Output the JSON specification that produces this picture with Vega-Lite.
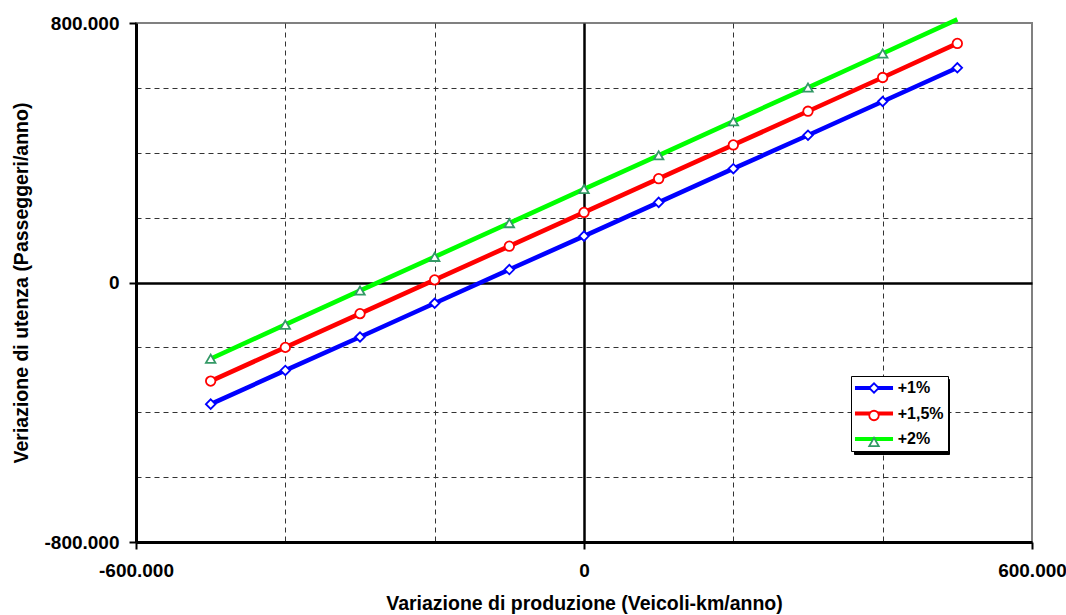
{
  "$schema": "https://vega.github.io/schema/vega-lite/v6.json",
  "width": 896,
  "height": 519,
  "autosize": {"type": "none"},
  "padding": {"left": 136, "top": 23, "right": 34, "bottom": 73},
  "background": "white",
  "config": {
    "locale": {"number": {"decimal": ",", "thousands": ".", "grouping": [3], "currency": ["€", ""], "minus": "-"}},
    "view": {"stroke": "#808080", "strokeWidth": 2},
    "font": "Liberation Sans"
  },
  "data": {
    "values": [
      {"x": -500000, "y": -375000, "serie": "+1%"},
      {"x": -400000, "y": -271000, "serie": "+1%"},
      {"x": -300000, "y": -168000, "serie": "+1%"},
      {"x": -200000, "y": -64000, "serie": "+1%"},
      {"x": -100000, "y": 40000, "serie": "+1%"},
      {"x": 0, "y": 143000, "serie": "+1%"},
      {"x": 100000, "y": 247000, "serie": "+1%"},
      {"x": 200000, "y": 351000, "serie": "+1%"},
      {"x": 300000, "y": 454000, "serie": "+1%"},
      {"x": 400000, "y": 558000, "serie": "+1%"},
      {"x": 500000, "y": 662000, "serie": "+1%"},
      {"x": -500000, "y": -304000, "serie": "+1,5%"},
      {"x": -400000, "y": -200000, "serie": "+1,5%"},
      {"x": -300000, "y": -96000, "serie": "+1,5%"},
      {"x": -200000, "y": 8000, "serie": "+1,5%"},
      {"x": -100000, "y": 112000, "serie": "+1,5%"},
      {"x": 0, "y": 216000, "serie": "+1,5%"},
      {"x": 100000, "y": 320000, "serie": "+1,5%"},
      {"x": 200000, "y": 424000, "serie": "+1,5%"},
      {"x": 300000, "y": 528000, "serie": "+1,5%"},
      {"x": 400000, "y": 632000, "serie": "+1,5%"},
      {"x": 500000, "y": 737000, "serie": "+1,5%"},
      {"x": -500000, "y": -235000, "serie": "+2%"},
      {"x": -400000, "y": -130000, "serie": "+2%"},
      {"x": -300000, "y": -25000, "serie": "+2%"},
      {"x": -200000, "y": 79000, "serie": "+2%"},
      {"x": -100000, "y": 183000, "serie": "+2%"},
      {"x": 0, "y": 288000, "serie": "+2%"},
      {"x": 100000, "y": 392000, "serie": "+2%"},
      {"x": 200000, "y": 497000, "serie": "+2%"},
      {"x": 300000, "y": 601000, "serie": "+2%"},
      {"x": 400000, "y": 706000, "serie": "+2%"},
      {"x": 500000, "y": 811000, "serie": "+2%"}
    ]
  },
  "encoding": {
    "x": {
      "field": "x", "type": "quantitative",
      "scale": {"domain": [-600000, 600000], "nice": false, "zero": false},
      "axis": {
        "values": [-600000, -400000, -200000, 0, 200000, 400000, 600000],
        "format": ",.0f",
        "labelExpr": "datum.value % 600000 === 0 ? datum.label : ''",
        "labelOverlap": false, "labelBound": false, "labelFlush": false,
        "title": "Variazione di produzione (Veicoli-km/anno)",
        "grid": true,
        "gridColor": {"condition": {"test": "datum.value === 0", "value": "black"}, "value": "#333333"},
        "gridDash": {"condition": {"test": "datum.value === 0", "value": []}, "value": [5, 4]},
        "gridWidth": {"condition": {"test": "datum.value === 0", "value": 2.5}, "value": 1},
        "gridOpacity": {"condition": {"test": "abs(datum.value) === 600000", "value": 0}, "value": 1},
        "domainColor": "black", "domainWidth": 3,
        "tickColor": "black", "tickWidth": 2, "tickSize": 7,
        "tickOpacity": {"condition": {"test": "datum.value % 600000 === 0", "value": 1}, "value": 0},
        "labelFont": "Liberation Sans", "labelFontWeight": "bold", "labelFontSize": 19, "labelColor": "black", "labelPadding": 12,
        "titleFont": "Liberation Sans", "titleFontWeight": "bold", "titleFontSize": 19.5, "titleColor": "black",
        "titleX": 448, "titleY": 67, "titleBaseline": "alphabetic", "titleAlign": "center"
      }
    },
    "y": {
      "field": "y", "type": "quantitative",
      "scale": {"domain": [-800000, 800000], "nice": false, "zero": false},
      "axis": {
        "values": [-800000, -600000, -400000, -200000, 0, 200000, 400000, 600000, 800000],
        "format": ",.0f",
        "labelExpr": "datum.value % 800000 === 0 ? datum.label : ''",
        "labelOverlap": false, "labelBound": false, "labelFlush": false,
        "title": "Veriazione di utenza (Passeggeri/anno)",
        "grid": true,
        "gridColor": {"condition": {"test": "datum.value === 0", "value": "black"}, "value": "#333333"},
        "gridDash": {"condition": {"test": "datum.value === 0", "value": []}, "value": [5, 4]},
        "gridWidth": {"condition": {"test": "datum.value === 0", "value": 2.5}, "value": 1},
        "gridOpacity": {"condition": {"test": "abs(datum.value) === 800000", "value": 0}, "value": 1},
        "domainColor": "black", "domainWidth": 3,
        "tickColor": "black", "tickWidth": 2, "tickSize": 7,
        "tickOpacity": {"condition": {"test": "datum.value % 800000 === 0", "value": 1}, "value": 0},
        "labelFont": "Liberation Sans", "labelFontWeight": "bold", "labelFontSize": 19, "labelColor": "black", "labelPadding": 10,
        "titleFont": "Liberation Sans", "titleFontWeight": "bold", "titleFontSize": 19.5, "titleColor": "black",
        "titleAngle": -90, "titleX": -109, "titleY": 259.5, "titleBaseline": "alphabetic", "titleAlign": "center"
      }
    }
  },
  "layer": [
    {
      "mark": {"type": "point", "opacity": 0, "filled": true},
      "encoding": {
        "fill": {
          "field": "serie", "type": "nominal",
          "scale": {"range": ["#000000", "#000000", "#000000"]},
          "sort": "descending",
          "legend": {
            "title": null, "orient": "none", "legendX": 718, "legendY": 356,
            "fillColor": "black", "strokeColor": "black", "padding": 4,
            "symbolType": "M-3.17,0H11.25", "symbolSize": 144, "symbolStrokeWidth": 4,
            "symbolOffset": 11, "labelOffset": 15.7, "symbolOpacity": 0,
            "labelExpr": "''",
            "labelFont": "Liberation Sans", "labelFontWeight": "bold", "labelFontSize": 16, "labelOpacity": 0,
            "rowPadding": 9.5
          }
        }
      }
    },
    {
      "mark": {"type": "line", "strokeWidth": 4.6, "clip": false},
      "encoding": {
        "color": {
          "field": "serie", "type": "nominal",
          "scale": {"domain": ["+1%", "+1,5%", "+2%"], "range": ["#0000ff", "#ff0000", "#00ff00"]},
          "legend": {
            "title": null, "orient": "none", "legendX": 715, "legendY": 353,
            "fillColor": "white", "strokeColor": "black", "padding": 4,
            "symbolType": "M-3.17,0H3.17", "symbolSize": 144, "symbolStrokeWidth": 4,
            "symbolOffset": 11, "labelOffset": 15.7,
            "labelFont": "Liberation Sans", "labelFontWeight": "bold", "labelFontSize": 16, "labelColor": "black",
            "rowPadding": 9.5
          }
        }
      }
    },
    {
      "transform": [{"filter": "datum.y <= 800000"}],
      "mark": {"type": "point", "filled": false, "fill": "white", "size": 90, "strokeWidth": 1.8, "opacity": 1},
      "encoding": {
        "stroke": {
          "field": "serie", "type": "nominal",
          "scale": {"range": ["#0000ff", "#ff0000", "#339966"]},
          "legend": {
            "title": null, "orient": "none", "legendX": 715, "legendY": 353, "padding": 4,
            "symbolSize": 90, "symbolStrokeWidth": 1.8, "symbolFillColor": "white",
            "symbolOffset": 11, "labelOffset": 15.7, "labelExpr": "''",
            "labelFontSize": 16, "labelOpacity": 0, "rowPadding": 9.5
          }
        },
        "shape": {
          "field": "serie", "type": "nominal",
          "scale": {"range": ["diamond", "circle", "triangle-up"]},
          "legend": {
            "title": null, "orient": "none", "legendX": 715, "legendY": 353, "padding": 4,
            "symbolSize": 90, "symbolStrokeWidth": 1.8, "symbolFillColor": "white",
            "symbolOffset": 11, "labelOffset": 15.7, "labelExpr": "''",
            "labelFontSize": 16, "labelOpacity": 0, "rowPadding": 9.5
          }
        }
      }
    }
  ]
}
